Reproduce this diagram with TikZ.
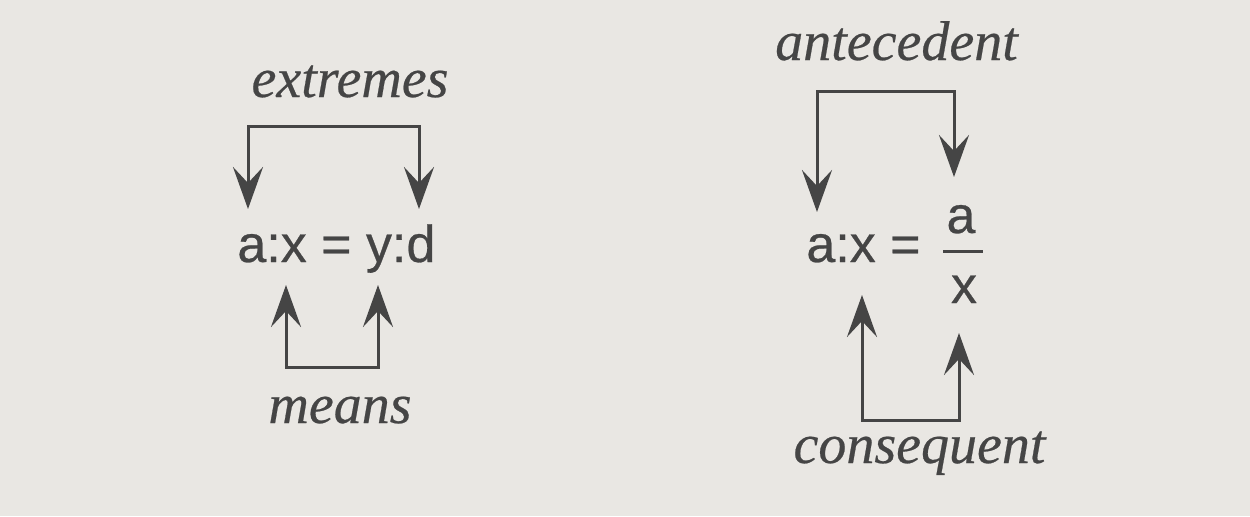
\documentclass[tikz,border=0pt]{standalone}
\usepackage{fontspec}
\setmainfont{Liberation Serif}[ItalicFeatures={FakeBold=0.4}]
\setsansfont{Liberation Sans}[FakeBold=0.5]
\usetikzlibrary{arrows.meta}
\definecolor{paper}{HTML}{E9E7E3}
\definecolor{ink}{HTML}{454545}
\tikzset{
  lbl/.style={inner sep=0pt, anchor=base, text=ink, font=\fontsize{28}{30}\selectfont\itshape},
  formula/.style={inner sep=0pt, anchor=base west, text=ink, font=\fontsize{26}{30}\selectfont\sffamily},
  fracpart/.style={inner sep=0pt, anchor=base, text=ink, font=\fontsize{26}{30}\selectfont\sffamily},
  conn/.style={draw=ink, line width=1.5pt, {Stealth[length=21pt,width=15pt,inset=8pt]}-{Stealth[length=21pt,width=15pt,inset=8pt]}},
  fracline/.style={draw=ink, line width=1.5pt}
}
\begin{document}
\begin{tikzpicture}[x=0.5pt,y=-0.5pt]
\fill[paper] (0,0) rectangle (1250,516);
\useasboundingbox (0,0) rectangle (1250,516);
% left diagram
\node[lbl] (extremes) at (350,97) {extremes};
\node[formula] (f1) at (237,262) {a:x = y:d};
\node[lbl] (means) at (340,423) {means};
\coordinate (e1) at (248,209);
\coordinate (e2) at (419,209);
\coordinate (etop) at (0,126);
\draw[conn] (e1) -- (e1 |- etop) -- (e2 |- etop) -- (e2);
\coordinate (m1) at (286,285);
\coordinate (m2) at (378,285);
\coordinate (mbot) at (0,367);
\draw[conn] (m1) -- (m1 |- mbot) -- (m2 |- mbot) -- (m2);
% right diagram
\node[lbl] (antecedent) at (896.5,60) {antecedent};
\node[formula] (f2) at (806,262) {a:x =};
\node[fracpart] (num) at (961,233) {a};
\node[fracpart] (den) at (964,303) {x};
\coordinate (fl1) at (943,251);
\coordinate (fl2) at (983,251);
\draw[fracline] (fl1) -- (fl2);
\node[lbl] (consequent) at (919.5,463) {consequent};
\coordinate (a1) at (817,212);
\coordinate (a2) at (954,177);
\coordinate (atop) at (0,91);
\draw[conn] (a1) -- (a1 |- atop) -- (a2 |- atop) -- (a2);
\coordinate (c1) at (862,295);
\coordinate (c2) at (959,333);
\coordinate (cbot) at (0,420);
\draw[conn] (c1) -- (c1 |- cbot) -- (c2 |- cbot) -- (c2);
\end{tikzpicture}
\end{document}
